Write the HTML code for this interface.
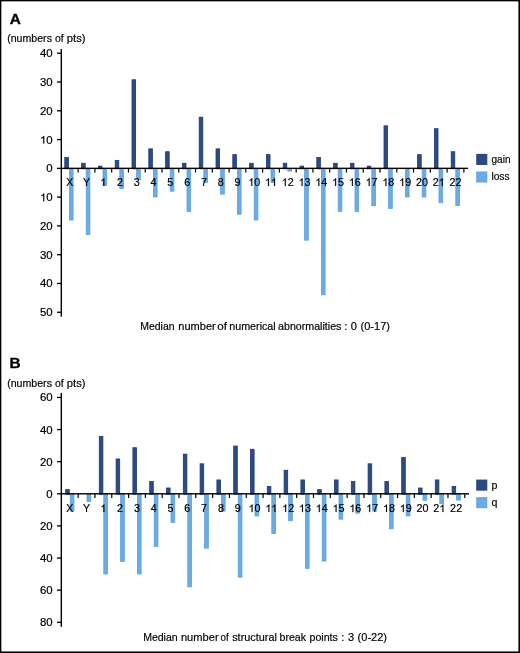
<!DOCTYPE html>
<html><head><meta charset="utf-8">
<style>
html,body{margin:0;padding:0;background:#fff;}
body{width:520px;height:653px;overflow:hidden;}
svg{display:block;will-change:transform;}
text{font-family:"Liberation Sans",sans-serif;font-size:10.8px;fill:#000;stroke:#000;stroke-width:0.18px;}
.b{font-weight:bold;font-size:15.3px;stroke:#000;stroke-width:0.35px;}
.n{font-size:10.6px;}
.l{font-size:10px;stroke-width:0.15px;letter-spacing:-0.15px;}
</style></head><body>
<svg width="520" height="653" viewBox="0 0 520 653">
<rect x="0" y="0" width="520" height="653" fill="#fff"/>
<text class="b" x="9.7" y="23.8">A</text>
<text x="7.14" y="41.6" textLength="44.84" lengthAdjust="spacingAndGlyphs" style="font-size:11px">(numbers</text>
<text x="54.96" y="41.6" textLength="8.72" lengthAdjust="spacingAndGlyphs" style="font-size:11px">of</text>
<text x="66.78" y="41.6" textLength="18.72" lengthAdjust="spacingAndGlyphs" style="font-size:11px">pts)</text>
<rect x="64.80" y="157.49" width="3.60" height="11.26" fill="#2f4c80" stroke="#1b3972" stroke-width="0.8"/>
<rect x="69.40"  y="168.35" width="3.70" height="51.65" fill="#6cace2" stroke="#5aa1df" stroke-width="0.8"/>
<rect x="81.60" y="163.24" width="3.60" height="5.51" fill="#2f4c80" stroke="#1b3972" stroke-width="0.8"/>
<rect x="86.20"  y="168.35" width="3.70" height="66.04" fill="#6cace2" stroke="#5aa1df" stroke-width="0.8"/>
<rect x="98.40" y="166.12" width="3.60" height="2.63" fill="#2f4c80" stroke="#1b3972" stroke-width="0.8"/>
<rect x="103.00"  y="168.35" width="3.70" height="17.12" fill="#6cace2" stroke="#5aa1df" stroke-width="0.8"/>
<rect x="115.20" y="160.37" width="3.60" height="8.38" fill="#2f4c80" stroke="#1b3972" stroke-width="0.8"/>
<rect x="119.80"  y="168.35" width="3.70" height="20.00" fill="#6cace2" stroke="#5aa1df" stroke-width="0.8"/>
<rect x="132.00" y="79.78" width="3.60" height="88.97" fill="#2f4c80" stroke="#1b3972" stroke-width="0.8"/>
<rect x="136.60"  y="168.35" width="3.70" height="11.36" fill="#6cace2" stroke="#5aa1df" stroke-width="0.8"/>
<rect x="148.80" y="148.85" width="3.60" height="19.90" fill="#2f4c80" stroke="#1b3972" stroke-width="0.8"/>
<rect x="153.40"  y="168.35" width="3.70" height="28.63" fill="#6cace2" stroke="#5aa1df" stroke-width="0.8"/>
<rect x="165.60" y="151.73" width="3.60" height="17.02" fill="#2f4c80" stroke="#1b3972" stroke-width="0.8"/>
<rect x="170.20"  y="168.35" width="3.70" height="22.87" fill="#6cace2" stroke="#5aa1df" stroke-width="0.8"/>
<rect x="182.40" y="163.24" width="3.60" height="5.51" fill="#2f4c80" stroke="#1b3972" stroke-width="0.8"/>
<rect x="187.00"  y="168.35" width="3.70" height="43.02" fill="#6cace2" stroke="#5aa1df" stroke-width="0.8"/>
<rect x="199.20" y="117.20" width="3.60" height="51.55" fill="#2f4c80" stroke="#1b3972" stroke-width="0.8"/>
<rect x="203.80"  y="168.35" width="3.70" height="14.24" fill="#6cace2" stroke="#5aa1df" stroke-width="0.8"/>
<rect x="216.00" y="148.85" width="3.60" height="19.90" fill="#2f4c80" stroke="#1b3972" stroke-width="0.8"/>
<rect x="220.60"  y="168.35" width="3.70" height="25.75" fill="#6cace2" stroke="#5aa1df" stroke-width="0.8"/>
<rect x="232.80" y="154.61" width="3.60" height="14.14" fill="#2f4c80" stroke="#1b3972" stroke-width="0.8"/>
<rect x="237.40"  y="168.35" width="3.70" height="45.90" fill="#6cace2" stroke="#5aa1df" stroke-width="0.8"/>
<rect x="249.60" y="163.24" width="3.60" height="5.51" fill="#2f4c80" stroke="#1b3972" stroke-width="0.8"/>
<rect x="254.20"  y="168.35" width="3.70" height="51.65" fill="#6cace2" stroke="#5aa1df" stroke-width="0.8"/>
<rect x="266.40" y="154.61" width="3.60" height="14.14" fill="#2f4c80" stroke="#1b3972" stroke-width="0.8"/>
<rect x="271.00"  y="168.35" width="3.70" height="14.24" fill="#6cace2" stroke="#5aa1df" stroke-width="0.8"/>
<rect x="283.20" y="163.24" width="3.60" height="5.51" fill="#2f4c80" stroke="#1b3972" stroke-width="0.8"/>
<rect x="287.80"  y="168.35" width="3.70" height="2.73" fill="#6cace2" stroke="#5aa1df" stroke-width="0.8"/>
<rect x="300.00" y="166.12" width="3.60" height="2.63" fill="#2f4c80" stroke="#1b3972" stroke-width="0.8"/>
<rect x="304.60"  y="168.35" width="3.70" height="71.80" fill="#6cace2" stroke="#5aa1df" stroke-width="0.8"/>
<rect x="316.80" y="157.49" width="3.60" height="11.26" fill="#2f4c80" stroke="#1b3972" stroke-width="0.8"/>
<rect x="321.40"  y="168.35" width="3.70" height="126.48" fill="#6cace2" stroke="#5aa1df" stroke-width="0.8"/>
<rect x="333.60" y="163.24" width="3.60" height="5.51" fill="#2f4c80" stroke="#1b3972" stroke-width="0.8"/>
<rect x="338.20"  y="168.35" width="3.70" height="43.02" fill="#6cace2" stroke="#5aa1df" stroke-width="0.8"/>
<rect x="350.40" y="163.24" width="3.60" height="5.51" fill="#2f4c80" stroke="#1b3972" stroke-width="0.8"/>
<rect x="355.00"  y="168.35" width="3.70" height="43.02" fill="#6cace2" stroke="#5aa1df" stroke-width="0.8"/>
<rect x="367.20" y="166.12" width="3.60" height="2.63" fill="#2f4c80" stroke="#1b3972" stroke-width="0.8"/>
<rect x="371.80"  y="168.35" width="3.70" height="37.26" fill="#6cace2" stroke="#5aa1df" stroke-width="0.8"/>
<rect x="384.00" y="125.83" width="3.60" height="42.92" fill="#2f4c80" stroke="#1b3972" stroke-width="0.8"/>
<rect x="388.60"  y="168.35" width="3.70" height="40.14" fill="#6cace2" stroke="#5aa1df" stroke-width="0.8"/>
<rect x="405.40"  y="168.35" width="3.70" height="28.63" fill="#6cace2" stroke="#5aa1df" stroke-width="0.8"/>
<rect x="417.60" y="154.61" width="3.60" height="14.14" fill="#2f4c80" stroke="#1b3972" stroke-width="0.8"/>
<rect x="422.20"  y="168.35" width="3.70" height="28.63" fill="#6cace2" stroke="#5aa1df" stroke-width="0.8"/>
<rect x="434.40" y="128.71" width="3.60" height="40.04" fill="#2f4c80" stroke="#1b3972" stroke-width="0.8"/>
<rect x="439.00"  y="168.35" width="3.70" height="34.39" fill="#6cace2" stroke="#5aa1df" stroke-width="0.8"/>
<rect x="451.20" y="151.73" width="3.60" height="17.02" fill="#2f4c80" stroke="#1b3972" stroke-width="0.8"/>
<rect x="455.80"  y="168.35" width="3.70" height="37.26" fill="#6cace2" stroke="#5aa1df" stroke-width="0.8"/>
<rect x="60.6" y="49.00" width="1.4" height="267.60" fill="#000"/>
<rect x="60.6" y="167.65" width="407.55" height="1.4" fill="#000"/>
<rect x="77.55" y="168.35" width="1.2" height="4.2" fill="#000"/>
<rect x="94.32" y="168.35" width="1.2" height="4.2" fill="#000"/>
<rect x="111.09" y="168.35" width="1.2" height="4.2" fill="#000"/>
<rect x="127.86" y="168.35" width="1.2" height="4.2" fill="#000"/>
<rect x="144.63" y="168.35" width="1.2" height="4.2" fill="#000"/>
<rect x="161.40" y="168.35" width="1.2" height="4.2" fill="#000"/>
<rect x="178.17" y="168.35" width="1.2" height="4.2" fill="#000"/>
<rect x="194.94" y="168.35" width="1.2" height="4.2" fill="#000"/>
<rect x="211.71" y="168.35" width="1.2" height="4.2" fill="#000"/>
<rect x="228.48" y="168.35" width="1.2" height="4.2" fill="#000"/>
<rect x="245.25" y="168.35" width="1.2" height="4.2" fill="#000"/>
<rect x="262.02" y="168.35" width="1.2" height="4.2" fill="#000"/>
<rect x="278.79" y="168.35" width="1.2" height="4.2" fill="#000"/>
<rect x="295.56" y="168.35" width="1.2" height="4.2" fill="#000"/>
<rect x="312.33" y="168.35" width="1.2" height="4.2" fill="#000"/>
<rect x="329.10" y="168.35" width="1.2" height="4.2" fill="#000"/>
<rect x="345.87" y="168.35" width="1.2" height="4.2" fill="#000"/>
<rect x="362.64" y="168.35" width="1.2" height="4.2" fill="#000"/>
<rect x="379.41" y="168.35" width="1.2" height="4.2" fill="#000"/>
<rect x="396.18" y="168.35" width="1.2" height="4.2" fill="#000"/>
<rect x="412.95" y="168.35" width="1.2" height="4.2" fill="#000"/>
<rect x="429.72" y="168.35" width="1.2" height="4.2" fill="#000"/>
<rect x="446.49" y="168.35" width="1.2" height="4.2" fill="#000"/>
<rect x="463.26" y="168.35" width="1.2" height="4.2" fill="#000"/>
<rect x="57" y="167.70" width="4" height="1.3" fill="#000"/>
<text class="n" x="46.33" y="172.35" textLength="6.37" lengthAdjust="spacingAndGlyphs">0</text>
<rect x="57" y="138.92" width="4" height="1.3" fill="#000"/>
<path d="M763 0H583V1147Q518 1085 412.5 1023T223 930V1104Q373 1174.5 485.5 1275T644 1470H763z" transform="translate(39.97,143.57) scale(0.00559,-0.00518)" fill="#000" stroke="#000" stroke-width="34.8"/><text class="n" x="46.33" y="143.57" textLength="6.37" lengthAdjust="spacingAndGlyphs">0</text>
<rect x="57" y="110.14" width="4" height="1.3" fill="#000"/>
<text class="n" x="39.97" y="114.79" textLength="6.37" lengthAdjust="spacingAndGlyphs">2</text><text class="n" x="46.33" y="114.79" textLength="6.37" lengthAdjust="spacingAndGlyphs">0</text>
<rect x="57" y="81.36" width="4" height="1.3" fill="#000"/>
<text class="n" x="39.97" y="86.01" textLength="6.37" lengthAdjust="spacingAndGlyphs">3</text><text class="n" x="46.33" y="86.01" textLength="6.37" lengthAdjust="spacingAndGlyphs">0</text>
<rect x="57" y="52.58" width="4" height="1.3" fill="#000"/>
<text class="n" x="39.97" y="57.23" textLength="6.37" lengthAdjust="spacingAndGlyphs">4</text><text class="n" x="46.33" y="57.23" textLength="6.37" lengthAdjust="spacingAndGlyphs">0</text>
<rect x="57" y="196.48" width="4" height="1.3" fill="#000"/>
<path d="M763 0H583V1147Q518 1085 412.5 1023T223 930V1104Q373 1174.5 485.5 1275T644 1470H763z" transform="translate(39.97,201.13) scale(0.00559,-0.00518)" fill="#000" stroke="#000" stroke-width="34.8"/><text class="n" x="46.33" y="201.13" textLength="6.37" lengthAdjust="spacingAndGlyphs">0</text>
<rect x="57" y="225.26" width="4" height="1.3" fill="#000"/>
<text class="n" x="39.97" y="229.91" textLength="6.37" lengthAdjust="spacingAndGlyphs">2</text><text class="n" x="46.33" y="229.91" textLength="6.37" lengthAdjust="spacingAndGlyphs">0</text>
<rect x="57" y="254.04" width="4" height="1.3" fill="#000"/>
<text class="n" x="39.97" y="258.69" textLength="6.37" lengthAdjust="spacingAndGlyphs">3</text><text class="n" x="46.33" y="258.69" textLength="6.37" lengthAdjust="spacingAndGlyphs">0</text>
<rect x="57" y="282.82" width="4" height="1.3" fill="#000"/>
<text class="n" x="39.97" y="287.47" textLength="6.37" lengthAdjust="spacingAndGlyphs">4</text><text class="n" x="46.33" y="287.47" textLength="6.37" lengthAdjust="spacingAndGlyphs">0</text>
<rect x="57" y="311.60" width="4" height="1.3" fill="#000"/>
<text class="n" x="39.97" y="316.25" textLength="6.37" lengthAdjust="spacingAndGlyphs">5</text><text class="n" x="46.33" y="316.25" textLength="6.37" lengthAdjust="spacingAndGlyphs">0</text>
<text class="n" x="69.77" y="185.9" text-anchor="middle">X</text>
<text class="n" x="86.53" y="185.9" text-anchor="middle">Y</text>
<path d="M763 0H583V1147Q518 1085 412.5 1023T223 930V1104Q373 1174.5 485.5 1275T644 1470H763z" transform="translate(100.30,185.90) scale(0.00528,-0.00518)" fill="#000" stroke="#000" stroke-width="34.8"/>
<text class="n" x="117.07" y="185.9" textLength="6.01" lengthAdjust="spacingAndGlyphs">2</text>
<text class="n" x="133.84" y="185.9" textLength="6.01" lengthAdjust="spacingAndGlyphs">3</text>
<text class="n" x="150.61" y="185.9" textLength="6.01" lengthAdjust="spacingAndGlyphs">4</text>
<text class="n" x="167.38" y="185.9" textLength="6.01" lengthAdjust="spacingAndGlyphs">5</text>
<text class="n" x="184.15" y="185.9" textLength="6.01" lengthAdjust="spacingAndGlyphs">6</text>
<text class="n" x="200.92" y="185.9" textLength="6.01" lengthAdjust="spacingAndGlyphs">7</text>
<text class="n" x="217.69" y="185.9" textLength="6.01" lengthAdjust="spacingAndGlyphs">8</text>
<text class="n" x="234.46" y="185.9" textLength="6.01" lengthAdjust="spacingAndGlyphs">9</text>
<path d="M763 0H583V1147Q518 1085 412.5 1023T223 930V1104Q373 1174.5 485.5 1275T644 1470H763z" transform="translate(248.22,185.90) scale(0.00528,-0.00518)" fill="#000" stroke="#000" stroke-width="34.8"/><text class="n" x="254.23" y="185.9" textLength="6.01" lengthAdjust="spacingAndGlyphs">0</text>
<path d="M763 0H583V1147Q518 1085 412.5 1023T223 930V1104Q373 1174.5 485.5 1275T644 1470H763z" transform="translate(264.99,185.90) scale(0.00528,-0.00518)" fill="#000" stroke="#000" stroke-width="34.8"/><path d="M763 0H583V1147Q518 1085 412.5 1023T223 930V1104Q373 1174.5 485.5 1275T644 1470H763z" transform="translate(271.00,185.90) scale(0.00528,-0.00518)" fill="#000" stroke="#000" stroke-width="34.8"/>
<path d="M763 0H583V1147Q518 1085 412.5 1023T223 930V1104Q373 1174.5 485.5 1275T644 1470H763z" transform="translate(281.76,185.90) scale(0.00528,-0.00518)" fill="#000" stroke="#000" stroke-width="34.8"/><text class="n" x="287.77" y="185.9" textLength="6.01" lengthAdjust="spacingAndGlyphs">2</text>
<path d="M763 0H583V1147Q518 1085 412.5 1023T223 930V1104Q373 1174.5 485.5 1275T644 1470H763z" transform="translate(298.53,185.90) scale(0.00528,-0.00518)" fill="#000" stroke="#000" stroke-width="34.8"/><text class="n" x="304.55" y="185.9" textLength="6.01" lengthAdjust="spacingAndGlyphs">3</text>
<path d="M763 0H583V1147Q518 1085 412.5 1023T223 930V1104Q373 1174.5 485.5 1275T644 1470H763z" transform="translate(315.30,185.90) scale(0.00528,-0.00518)" fill="#000" stroke="#000" stroke-width="34.8"/><text class="n" x="321.31" y="185.9" textLength="6.01" lengthAdjust="spacingAndGlyphs">4</text>
<path d="M763 0H583V1147Q518 1085 412.5 1023T223 930V1104Q373 1174.5 485.5 1275T644 1470H763z" transform="translate(332.07,185.90) scale(0.00528,-0.00518)" fill="#000" stroke="#000" stroke-width="34.8"/><text class="n" x="338.08" y="185.9" textLength="6.01" lengthAdjust="spacingAndGlyphs">5</text>
<path d="M763 0H583V1147Q518 1085 412.5 1023T223 930V1104Q373 1174.5 485.5 1275T644 1470H763z" transform="translate(348.84,185.90) scale(0.00528,-0.00518)" fill="#000" stroke="#000" stroke-width="34.8"/><text class="n" x="354.85" y="185.9" textLength="6.01" lengthAdjust="spacingAndGlyphs">6</text>
<path d="M763 0H583V1147Q518 1085 412.5 1023T223 930V1104Q373 1174.5 485.5 1275T644 1470H763z" transform="translate(365.61,185.90) scale(0.00528,-0.00518)" fill="#000" stroke="#000" stroke-width="34.8"/><text class="n" x="371.62" y="185.9" textLength="6.01" lengthAdjust="spacingAndGlyphs">7</text>
<path d="M763 0H583V1147Q518 1085 412.5 1023T223 930V1104Q373 1174.5 485.5 1275T644 1470H763z" transform="translate(382.38,185.90) scale(0.00528,-0.00518)" fill="#000" stroke="#000" stroke-width="34.8"/><text class="n" x="388.39" y="185.9" textLength="6.01" lengthAdjust="spacingAndGlyphs">8</text>
<path d="M763 0H583V1147Q518 1085 412.5 1023T223 930V1104Q373 1174.5 485.5 1275T644 1470H763z" transform="translate(399.15,185.90) scale(0.00528,-0.00518)" fill="#000" stroke="#000" stroke-width="34.8"/><text class="n" x="405.16" y="185.9" textLength="6.01" lengthAdjust="spacingAndGlyphs">9</text>
<text class="n" x="415.92" y="185.9" textLength="6.01" lengthAdjust="spacingAndGlyphs">2</text><text class="n" x="421.94" y="185.9" textLength="6.01" lengthAdjust="spacingAndGlyphs">0</text>
<text class="n" x="432.69" y="185.9" textLength="6.01" lengthAdjust="spacingAndGlyphs">2</text><path d="M763 0H583V1147Q518 1085 412.5 1023T223 930V1104Q373 1174.5 485.5 1275T644 1470H763z" transform="translate(438.70,185.90) scale(0.00528,-0.00518)" fill="#000" stroke="#000" stroke-width="34.8"/>
<text class="n" x="449.46" y="185.9" textLength="6.01" lengthAdjust="spacingAndGlyphs">2</text><text class="n" x="455.47" y="185.9" textLength="6.01" lengthAdjust="spacingAndGlyphs">2</text>
<rect x="476.8" y="154.40" width="10" height="10" fill="#2b4a7f" stroke="#223f74" stroke-width="1"/>
<rect x="476.8" y="172.00" width="10" height="10" fill="#69abe2" stroke="#5ea3e0" stroke-width="1"/>
<text x="491.48" y="162.5" textLength="19.08" lengthAdjust="spacingAndGlyphs" style="font-size:10.0px">gain</text><text x="491.41" y="179.8" textLength="18.16" lengthAdjust="spacingAndGlyphs" style="font-size:10.0px">loss</text>
<text x="140.19" y="330.3" textLength="34.39" lengthAdjust="spacingAndGlyphs" style="font-size:11px">Median</text>
<text x="178.37" y="330.3" textLength="37.31" lengthAdjust="spacingAndGlyphs" style="font-size:11px">number</text>
<text x="217.21" y="330.3" textLength="9.67" lengthAdjust="spacingAndGlyphs" style="font-size:11px">of</text>
<text x="229.29" y="330.3" textLength="46.43" lengthAdjust="spacingAndGlyphs" style="font-size:11px">numerical</text>
<text x="278.05" y="330.3" textLength="63.34" lengthAdjust="spacingAndGlyphs" style="font-size:11px">abnormalities</text>
<text x="345.85" y="330.3" text-anchor="middle" style="font-size:11px">:</text>
<text x="353.85" y="330.3" text-anchor="middle" style="font-size:11px">0</text>
<text x="360.51" y="330.3" textLength="29.47" lengthAdjust="spacingAndGlyphs" style="font-size:11px">(0-17)</text>
<text class="b" x="9.6" y="368.3">B</text>
<text x="7.14" y="386.5" textLength="44.84" lengthAdjust="spacingAndGlyphs" style="font-size:11px">(numbers</text>
<text x="54.96" y="386.5" textLength="8.72" lengthAdjust="spacingAndGlyphs" style="font-size:11px">of</text>
<text x="66.78" y="386.5" textLength="18.72" lengthAdjust="spacingAndGlyphs" style="font-size:11px">pts)</text>
<rect x="65.70" y="489.61" width="3.60" height="4.59" fill="#2f4c80" stroke="#1b3972" stroke-width="0.8"/>
<rect x="70.20"  y="493.80" width="3.75" height="17.29" fill="#6cace2" stroke="#5aa1df" stroke-width="0.8"/>
<rect x="87.00"  y="493.80" width="3.75" height="7.61" fill="#6cace2" stroke="#5aa1df" stroke-width="0.8"/>
<rect x="99.30" y="436.40" width="3.60" height="57.80" fill="#2f4c80" stroke="#1b3972" stroke-width="0.8"/>
<rect x="103.80"  y="493.80" width="3.75" height="80.17" fill="#6cace2" stroke="#5aa1df" stroke-width="0.8"/>
<rect x="116.10" y="458.97" width="3.60" height="35.23" fill="#2f4c80" stroke="#1b3972" stroke-width="0.8"/>
<rect x="120.60"  y="493.80" width="3.75" height="67.60" fill="#6cace2" stroke="#5aa1df" stroke-width="0.8"/>
<rect x="132.90" y="447.69" width="3.60" height="46.51" fill="#2f4c80" stroke="#1b3972" stroke-width="0.8"/>
<rect x="137.40"  y="493.80" width="3.75" height="80.17" fill="#6cace2" stroke="#5aa1df" stroke-width="0.8"/>
<rect x="149.70" y="481.55" width="3.60" height="12.65" fill="#2f4c80" stroke="#1b3972" stroke-width="0.8"/>
<rect x="154.20"  y="493.80" width="3.75" height="52.76" fill="#6cace2" stroke="#5aa1df" stroke-width="0.8"/>
<rect x="166.50" y="488.00" width="3.60" height="6.20" fill="#2f4c80" stroke="#1b3972" stroke-width="0.8"/>
<rect x="171.00"  y="493.80" width="3.75" height="28.57" fill="#6cace2" stroke="#5aa1df" stroke-width="0.8"/>
<rect x="183.30" y="454.14" width="3.60" height="40.06" fill="#2f4c80" stroke="#1b3972" stroke-width="0.8"/>
<rect x="187.80"  y="493.80" width="3.75" height="93.07" fill="#6cace2" stroke="#5aa1df" stroke-width="0.8"/>
<rect x="200.10" y="463.81" width="3.60" height="30.39" fill="#2f4c80" stroke="#1b3972" stroke-width="0.8"/>
<rect x="204.60"  y="493.80" width="3.75" height="54.38" fill="#6cace2" stroke="#5aa1df" stroke-width="0.8"/>
<rect x="216.90" y="479.94" width="3.60" height="14.26" fill="#2f4c80" stroke="#1b3972" stroke-width="0.8"/>
<rect x="221.40"  y="493.80" width="3.75" height="17.29" fill="#6cace2" stroke="#5aa1df" stroke-width="0.8"/>
<rect x="233.70" y="446.07" width="3.60" height="48.12" fill="#2f4c80" stroke="#1b3972" stroke-width="0.8"/>
<rect x="238.20"  y="493.80" width="3.75" height="83.40" fill="#6cace2" stroke="#5aa1df" stroke-width="0.8"/>
<rect x="250.50" y="449.30" width="3.60" height="44.90" fill="#2f4c80" stroke="#1b3972" stroke-width="0.8"/>
<rect x="255.00"  y="493.80" width="3.75" height="22.13" fill="#6cace2" stroke="#5aa1df" stroke-width="0.8"/>
<rect x="267.30" y="486.39" width="3.60" height="7.81" fill="#2f4c80" stroke="#1b3972" stroke-width="0.8"/>
<rect x="271.80"  y="493.80" width="3.75" height="39.86" fill="#6cace2" stroke="#5aa1df" stroke-width="0.8"/>
<rect x="284.10" y="470.26" width="3.60" height="23.94" fill="#2f4c80" stroke="#1b3972" stroke-width="0.8"/>
<rect x="288.60"  y="493.80" width="3.75" height="26.96" fill="#6cace2" stroke="#5aa1df" stroke-width="0.8"/>
<rect x="300.90" y="479.94" width="3.60" height="14.26" fill="#2f4c80" stroke="#1b3972" stroke-width="0.8"/>
<rect x="305.40"  y="493.80" width="3.75" height="74.53" fill="#6cace2" stroke="#5aa1df" stroke-width="0.8"/>
<rect x="317.70" y="489.61" width="3.60" height="4.59" fill="#2f4c80" stroke="#1b3972" stroke-width="0.8"/>
<rect x="322.20"  y="493.80" width="3.75" height="67.28" fill="#6cace2" stroke="#5aa1df" stroke-width="0.8"/>
<rect x="334.50" y="479.94" width="3.60" height="14.26" fill="#2f4c80" stroke="#1b3972" stroke-width="0.8"/>
<rect x="339.00"  y="493.80" width="3.75" height="25.35" fill="#6cace2" stroke="#5aa1df" stroke-width="0.8"/>
<rect x="351.30" y="481.55" width="3.60" height="12.65" fill="#2f4c80" stroke="#1b3972" stroke-width="0.8"/>
<rect x="355.80"  y="493.80" width="3.75" height="19.38" fill="#6cace2" stroke="#5aa1df" stroke-width="0.8"/>
<rect x="368.10" y="463.81" width="3.60" height="30.39" fill="#2f4c80" stroke="#1b3972" stroke-width="0.8"/>
<rect x="372.60"  y="493.80" width="3.75" height="17.29" fill="#6cace2" stroke="#5aa1df" stroke-width="0.8"/>
<rect x="384.90" y="481.55" width="3.60" height="12.65" fill="#2f4c80" stroke="#1b3972" stroke-width="0.8"/>
<rect x="389.40"  y="493.80" width="3.75" height="35.03" fill="#6cace2" stroke="#5aa1df" stroke-width="0.8"/>
<rect x="401.70" y="457.36" width="3.60" height="36.84" fill="#2f4c80" stroke="#1b3972" stroke-width="0.8"/>
<rect x="406.20"  y="493.80" width="3.75" height="22.13" fill="#6cace2" stroke="#5aa1df" stroke-width="0.8"/>
<rect x="418.50" y="488.00" width="3.60" height="6.20" fill="#2f4c80" stroke="#1b3972" stroke-width="0.8"/>
<rect x="423.00"  y="493.80" width="3.75" height="6.48" fill="#6cace2" stroke="#5aa1df" stroke-width="0.8"/>
<rect x="435.30" y="479.94" width="3.60" height="14.26" fill="#2f4c80" stroke="#1b3972" stroke-width="0.8"/>
<rect x="439.80"  y="493.80" width="3.75" height="9.87" fill="#6cace2" stroke="#5aa1df" stroke-width="0.8"/>
<rect x="452.10" y="486.39" width="3.60" height="7.81" fill="#2f4c80" stroke="#1b3972" stroke-width="0.8"/>
<rect x="456.60"  y="493.80" width="3.75" height="6.32" fill="#6cace2" stroke="#5aa1df" stroke-width="0.8"/>
<rect x="60.6" y="392.90" width="1.4" height="233.90" fill="#000"/>
<rect x="60.6" y="493.10" width="408.40" height="1.4" fill="#000"/>
<rect x="77.55" y="493.80" width="1.2" height="4.2" fill="#000"/>
<rect x="94.36" y="493.80" width="1.2" height="4.2" fill="#000"/>
<rect x="111.17" y="493.80" width="1.2" height="4.2" fill="#000"/>
<rect x="127.98" y="493.80" width="1.2" height="4.2" fill="#000"/>
<rect x="144.79" y="493.80" width="1.2" height="4.2" fill="#000"/>
<rect x="161.60" y="493.80" width="1.2" height="4.2" fill="#000"/>
<rect x="178.41" y="493.80" width="1.2" height="4.2" fill="#000"/>
<rect x="195.22" y="493.80" width="1.2" height="4.2" fill="#000"/>
<rect x="212.03" y="493.80" width="1.2" height="4.2" fill="#000"/>
<rect x="228.84" y="493.80" width="1.2" height="4.2" fill="#000"/>
<rect x="245.65" y="493.80" width="1.2" height="4.2" fill="#000"/>
<rect x="262.46" y="493.80" width="1.2" height="4.2" fill="#000"/>
<rect x="279.27" y="493.80" width="1.2" height="4.2" fill="#000"/>
<rect x="296.08" y="493.80" width="1.2" height="4.2" fill="#000"/>
<rect x="312.89" y="493.80" width="1.2" height="4.2" fill="#000"/>
<rect x="329.70" y="493.80" width="1.2" height="4.2" fill="#000"/>
<rect x="346.51" y="493.80" width="1.2" height="4.2" fill="#000"/>
<rect x="363.32" y="493.80" width="1.2" height="4.2" fill="#000"/>
<rect x="380.13" y="493.80" width="1.2" height="4.2" fill="#000"/>
<rect x="396.94" y="493.80" width="1.2" height="4.2" fill="#000"/>
<rect x="413.75" y="493.80" width="1.2" height="4.2" fill="#000"/>
<rect x="430.56" y="493.80" width="1.2" height="4.2" fill="#000"/>
<rect x="447.37" y="493.80" width="1.2" height="4.2" fill="#000"/>
<rect x="464.18" y="493.80" width="1.2" height="4.2" fill="#000"/>
<rect x="57" y="493.15" width="4" height="1.3" fill="#000"/>
<text class="n" x="46.33" y="497.80" textLength="6.37" lengthAdjust="spacingAndGlyphs">0</text>
<rect x="57" y="461.03" width="4" height="1.3" fill="#000"/>
<text class="n" x="39.97" y="465.68" textLength="6.37" lengthAdjust="spacingAndGlyphs">2</text><text class="n" x="46.33" y="465.68" textLength="6.37" lengthAdjust="spacingAndGlyphs">0</text>
<rect x="57" y="428.91" width="4" height="1.3" fill="#000"/>
<text class="n" x="39.97" y="433.56" textLength="6.37" lengthAdjust="spacingAndGlyphs">4</text><text class="n" x="46.33" y="433.56" textLength="6.37" lengthAdjust="spacingAndGlyphs">0</text>
<rect x="57" y="396.79" width="4" height="1.3" fill="#000"/>
<text class="n" x="39.97" y="401.44" textLength="6.37" lengthAdjust="spacingAndGlyphs">6</text><text class="n" x="46.33" y="401.44" textLength="6.37" lengthAdjust="spacingAndGlyphs">0</text>
<rect x="57" y="525.27" width="4" height="1.3" fill="#000"/>
<text class="n" x="39.97" y="529.92" textLength="6.37" lengthAdjust="spacingAndGlyphs">2</text><text class="n" x="46.33" y="529.92" textLength="6.37" lengthAdjust="spacingAndGlyphs">0</text>
<rect x="57" y="557.39" width="4" height="1.3" fill="#000"/>
<text class="n" x="39.97" y="562.04" textLength="6.37" lengthAdjust="spacingAndGlyphs">4</text><text class="n" x="46.33" y="562.04" textLength="6.37" lengthAdjust="spacingAndGlyphs">0</text>
<rect x="57" y="589.51" width="4" height="1.3" fill="#000"/>
<text class="n" x="39.97" y="594.16" textLength="6.37" lengthAdjust="spacingAndGlyphs">6</text><text class="n" x="46.33" y="594.16" textLength="6.37" lengthAdjust="spacingAndGlyphs">0</text>
<rect x="57" y="621.63" width="4" height="1.3" fill="#000"/>
<text class="n" x="39.97" y="626.28" textLength="6.37" lengthAdjust="spacingAndGlyphs">8</text><text class="n" x="46.33" y="626.28" textLength="6.37" lengthAdjust="spacingAndGlyphs">0</text>
<text class="n" x="69.75" y="512.1" text-anchor="middle">X</text>
<text class="n" x="86.55" y="512.1" text-anchor="middle">Y</text>
<path d="M763 0H583V1147Q518 1085 412.5 1023T223 930V1104Q373 1174.5 485.5 1275T644 1470H763z" transform="translate(100.34,512.10) scale(0.00528,-0.00518)" fill="#000" stroke="#000" stroke-width="34.8"/>
<text class="n" x="117.14" y="512.1" textLength="6.01" lengthAdjust="spacingAndGlyphs">2</text>
<text class="n" x="133.94" y="512.1" textLength="6.01" lengthAdjust="spacingAndGlyphs">3</text>
<text class="n" x="150.74" y="512.1" textLength="6.01" lengthAdjust="spacingAndGlyphs">4</text>
<text class="n" x="167.54" y="512.1" textLength="6.01" lengthAdjust="spacingAndGlyphs">5</text>
<text class="n" x="184.34" y="512.1" textLength="6.01" lengthAdjust="spacingAndGlyphs">6</text>
<text class="n" x="201.14" y="512.1" textLength="6.01" lengthAdjust="spacingAndGlyphs">7</text>
<text class="n" x="217.94" y="512.1" textLength="6.01" lengthAdjust="spacingAndGlyphs">8</text>
<text class="n" x="234.74" y="512.1" textLength="6.01" lengthAdjust="spacingAndGlyphs">9</text>
<path d="M763 0H583V1147Q518 1085 412.5 1023T223 930V1104Q373 1174.5 485.5 1275T644 1470H763z" transform="translate(248.54,512.10) scale(0.00528,-0.00518)" fill="#000" stroke="#000" stroke-width="34.8"/><text class="n" x="254.55" y="512.1" textLength="6.01" lengthAdjust="spacingAndGlyphs">0</text>
<path d="M763 0H583V1147Q518 1085 412.5 1023T223 930V1104Q373 1174.5 485.5 1275T644 1470H763z" transform="translate(265.34,512.10) scale(0.00528,-0.00518)" fill="#000" stroke="#000" stroke-width="34.8"/><path d="M763 0H583V1147Q518 1085 412.5 1023T223 930V1104Q373 1174.5 485.5 1275T644 1470H763z" transform="translate(271.35,512.10) scale(0.00528,-0.00518)" fill="#000" stroke="#000" stroke-width="34.8"/>
<path d="M763 0H583V1147Q518 1085 412.5 1023T223 930V1104Q373 1174.5 485.5 1275T644 1470H763z" transform="translate(282.14,512.10) scale(0.00528,-0.00518)" fill="#000" stroke="#000" stroke-width="34.8"/><text class="n" x="288.15" y="512.1" textLength="6.01" lengthAdjust="spacingAndGlyphs">2</text>
<path d="M763 0H583V1147Q518 1085 412.5 1023T223 930V1104Q373 1174.5 485.5 1275T644 1470H763z" transform="translate(298.94,512.10) scale(0.00528,-0.00518)" fill="#000" stroke="#000" stroke-width="34.8"/><text class="n" x="304.95" y="512.1" textLength="6.01" lengthAdjust="spacingAndGlyphs">3</text>
<path d="M763 0H583V1147Q518 1085 412.5 1023T223 930V1104Q373 1174.5 485.5 1275T644 1470H763z" transform="translate(315.74,512.10) scale(0.00528,-0.00518)" fill="#000" stroke="#000" stroke-width="34.8"/><text class="n" x="321.75" y="512.1" textLength="6.01" lengthAdjust="spacingAndGlyphs">4</text>
<path d="M763 0H583V1147Q518 1085 412.5 1023T223 930V1104Q373 1174.5 485.5 1275T644 1470H763z" transform="translate(332.54,512.10) scale(0.00528,-0.00518)" fill="#000" stroke="#000" stroke-width="34.8"/><text class="n" x="338.55" y="512.1" textLength="6.01" lengthAdjust="spacingAndGlyphs">5</text>
<path d="M763 0H583V1147Q518 1085 412.5 1023T223 930V1104Q373 1174.5 485.5 1275T644 1470H763z" transform="translate(349.34,512.10) scale(0.00528,-0.00518)" fill="#000" stroke="#000" stroke-width="34.8"/><text class="n" x="355.35" y="512.1" textLength="6.01" lengthAdjust="spacingAndGlyphs">6</text>
<path d="M763 0H583V1147Q518 1085 412.5 1023T223 930V1104Q373 1174.5 485.5 1275T644 1470H763z" transform="translate(366.14,512.10) scale(0.00528,-0.00518)" fill="#000" stroke="#000" stroke-width="34.8"/><text class="n" x="372.15" y="512.1" textLength="6.01" lengthAdjust="spacingAndGlyphs">7</text>
<path d="M763 0H583V1147Q518 1085 412.5 1023T223 930V1104Q373 1174.5 485.5 1275T644 1470H763z" transform="translate(382.94,512.10) scale(0.00528,-0.00518)" fill="#000" stroke="#000" stroke-width="34.8"/><text class="n" x="388.95" y="512.1" textLength="6.01" lengthAdjust="spacingAndGlyphs">8</text>
<path d="M763 0H583V1147Q518 1085 412.5 1023T223 930V1104Q373 1174.5 485.5 1275T644 1470H763z" transform="translate(399.74,512.10) scale(0.00528,-0.00518)" fill="#000" stroke="#000" stroke-width="34.8"/><text class="n" x="405.75" y="512.1" textLength="6.01" lengthAdjust="spacingAndGlyphs">9</text>
<text class="n" x="416.54" y="512.1" textLength="6.01" lengthAdjust="spacingAndGlyphs">2</text><text class="n" x="422.55" y="512.1" textLength="6.01" lengthAdjust="spacingAndGlyphs">0</text>
<text class="n" x="433.34" y="512.1" textLength="6.01" lengthAdjust="spacingAndGlyphs">2</text><path d="M763 0H583V1147Q518 1085 412.5 1023T223 930V1104Q373 1174.5 485.5 1275T644 1470H763z" transform="translate(439.35,512.10) scale(0.00528,-0.00518)" fill="#000" stroke="#000" stroke-width="34.8"/>
<text class="n" x="450.14" y="512.1" textLength="6.01" lengthAdjust="spacingAndGlyphs">2</text><text class="n" x="456.15" y="512.1" textLength="6.01" lengthAdjust="spacingAndGlyphs">2</text>
<rect x="476.8" y="480.10" width="10" height="10" fill="#2b4a7f" stroke="#223f74" stroke-width="1"/>
<rect x="476.8" y="497.70" width="10" height="10" fill="#69abe2" stroke="#5ea3e0" stroke-width="1"/>
<text x="494.55" y="488.5" text-anchor="middle" style="font-size:10.6px">p</text><text x="494.55" y="505.8" text-anchor="middle" style="font-size:10.6px">q</text>
<text x="143.14" y="640.5" textLength="34.55" lengthAdjust="spacingAndGlyphs" style="font-size:11px">Median</text>
<text x="180.96" y="640.5" textLength="37.62" lengthAdjust="spacingAndGlyphs" style="font-size:11px">number</text>
<text x="220.49" y="640.5" textLength="8.15" lengthAdjust="spacingAndGlyphs" style="font-size:11px">of</text>
<text x="232.20" y="640.5" textLength="44.73" lengthAdjust="spacingAndGlyphs" style="font-size:11px">structural</text>
<text x="279.52" y="640.5" textLength="26.47" lengthAdjust="spacingAndGlyphs" style="font-size:11px">break</text>
<text x="309.51" y="640.5" textLength="28.37" lengthAdjust="spacingAndGlyphs" style="font-size:11px">points</text>
<text x="342.88" y="640.5" text-anchor="middle" style="font-size:11px">:</text>
<text x="351.12" y="640.5" text-anchor="middle" style="font-size:11px">3</text>
<text x="357.62" y="640.5" textLength="29.37" lengthAdjust="spacingAndGlyphs" style="font-size:11px">(0-22)</text>
<rect x="0" y="0" width="520" height="1.35" fill="#000"/>
<rect x="0" y="0" width="1.35" height="653" fill="#000"/>
<rect x="518.4" y="0" width="1.6" height="653" fill="#000"/>
<rect x="0" y="651.45" width="520" height="1.55" fill="#000"/>
</svg>
</body></html>
